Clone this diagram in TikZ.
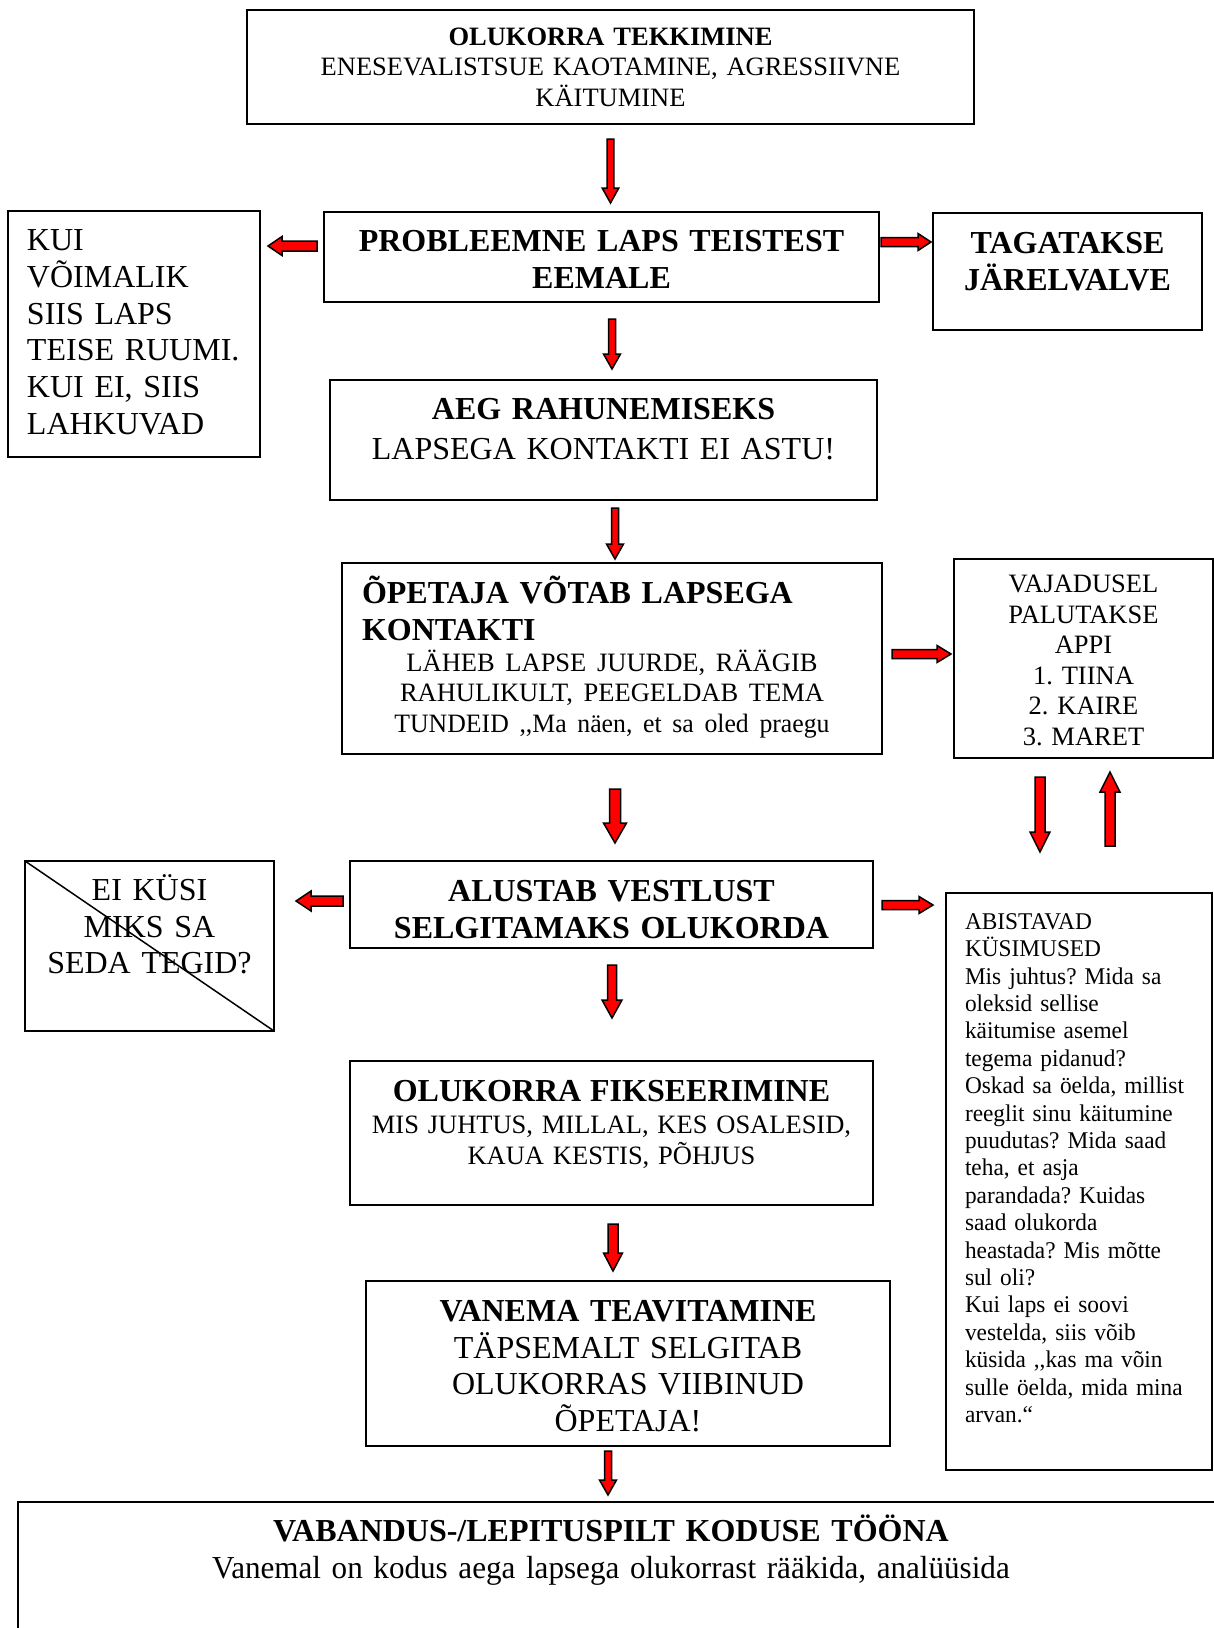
\documentclass[tikz,border=0pt]{standalone}
\usepackage{fontspec}
\setmainfont{Liberation Serif}
\newfontfamily\narrowserif{Liberation Serif}[FakeStretch=0.972]
\usetikzlibrary{calc}
\frenchspacing
\hyphenpenalty=10000
\exhyphenpenalty=10000

\newcommand{\fbig}{\fontsize{32}{36.8}\selectfont}
\newcommand{\fmid}{\fontsize{26.5}{30.6}\selectfont}
\newcommand{\fsml}{\fontsize{24}{27.4}\selectfont}

\tikzset{
  box/.style={draw, line width=2pt, anchor=north west, outer sep=0pt,
    inner ysep=0pt, inner xsep=0pt, align=center},
  lbox/.style={box, align=left, inner xsep=21pt},
  % block arrow: shaft half width, head half width, head length
  redarrow/.style n args={3}{draw=black, fill=red, line width=1.5pt, line join=miter,
    to path={let \p1=(\tikztostart), \p2=(\tikztotarget),
      \p3=($(\p2)!#3!(\p1)$) in
      -- ($(\p1)!#1!90:(\p2)$) -- ($(\p3)!#1!90:(\p2)$) -- ($(\p3)!#2!90:(\p2)$)
      -- (\p2)
      -- ($(\p3)!#2!-90:(\p2)$) -- ($(\p3)!#1!-90:(\p2)$) -- ($(\p1)!#1!-90:(\p2)$)
      -- cycle}}
}

\begin{document}
\begin{tikzpicture}[x=1pt,y=-1pt]
\useasboundingbox (0,0) rectangle (1214,1628);

\node[box, font=\fmid, text width=727pt, text height=35.1pt, text depth=78.9pt] (top) at (247,10)
  {\textbf{OLUKORRA TEKKIMINE}\\ENESEVALISTSUE KAOTAMINE, AGRESSIIVNE\\KÄITUMINE};
\node[box, font=\fbig\bfseries, text width=555pt, text height=39.6pt, text depth=50.4pt] (prob) at (324,212)
  {PROBLEEMNE LAPS TEISTEST\\EEMALE};
\node[lbox, inner xsep=19pt, font=\fbig, text width=214pt, text height=39.5pt, text depth=206.5pt] (kui) at (8,211)
  {KUI\\VÕIMALIK\\SIIS LAPS\\TEISE RUUMI.\\KUI EI, SIIS\\LAHKUVAD};
\node[box, font=\fbig\bfseries, text width=269pt, text height=40.6pt, text depth=76.4pt] (tag) at (933,213)
  {TAGATAKSE\\JÄRELVALVE};
\node[box, font=\fbig, text width=547pt, text height=39.8pt, text depth=80.2pt] (aeg) at (330,380)
  {\textbf{AEG RAHUNEMISEKS}\\[2.7pt]LAPSEGA KONTAKTI EI ASTU!};
\node[lbox, inner xsep=20pt, font=\fbig, text width=500pt, text height=40.6pt, text depth=150.4pt] (opet) at (342,563)
  {\bfseries ÕPETAJA VÕTAB LAPSEGA\\KONTAKTI\par
   \mdseries\centering\fmid LÄHEB LAPSE JUURDE, RÄÄGIB\\RAHULIKULT, PEEGELDAB TEMA\\{\narrowserif TUNDEID ,,Ma näen, et sa oled praegu}\par};
\node[box, font=\fmid, text width=259pt, text height=33.4pt, text depth=165.6pt] (vaj) at (954,559)
  {VAJADUSEL\\PALUTAKSE\\APPI\\1. TIINA\\2. KAIRE\\3. MARET};
\node[box, font=\fbig\bfseries, text width=523pt, text height=40.6pt, text depth=46.4pt] (alus) at (350,861)
  {ALUSTAB VESTLUST\\SELGITAMAKS OLUKORDA};
\node[box, font=\fbig, text width=249pt, text height=39.3pt, text depth=130.7pt] (eik) at (25,861)
  {EI KÜSI\\MIKS SA\\SEDA TEGID?};
\draw[line width=1.5pt] (eik.north west) -- (eik.south east);
\node[lbox, inner xsep=19pt, font=\narrowserif\fsml, text width=228pt, text height=36.3pt, text depth=540.7pt] (abi) at (946,893)
  {ABISTAVAD\\KÜSIMUSED\\Mis juhtus? Mida sa\\oleksid sellise\\käitumise asemel\\tegema pidanud?\\%
   Oskad sa öelda, millist\\reeglit sinu käitumine\\puudutas? Mida saad\\teha, et asja\\parandada? Kuidas\\%
   saad olukorda\\heastada? Mis mõtte\\sul oli?\\Kui laps ei soovi\\vestelda, siis võib\\küsida ,,kas ma võin\\%
   sulle öelda, mida mina\\arvan.“};
\node[box, font=\fmid, text width=523pt, text height=40pt, text depth=104pt] (fiks) at (350,1061)
  {\textbf{\fbig OLUKORRA FIKSEERIMINE}\\[2pt]MIS JUHTUS, MILLAL, KES OSALESID,\\KAUA KESTIS, PÕHJUS};
\node[box, font=\fbig, text width=524pt, text height=40.2pt, text depth=124.8pt] (van) at (366,1281)
  {\textbf{VANEMA TEAVITAMINE}\\TÄPSEMALT SELGITAB\\OLUKORRAS VIIBINUD\\ÕPETAJA!};
\node[box, draw=none, font=\fbig, text width=1186pt, text height=39.6pt, text depth=200pt] (home) at (18,1502)
  {\textbf{VABANDUS-/LEPITUSPILT KODUSE TÖÖNA}\\{\narrowserif Vanemal on kodus aega lapsega olukorrast rääkida, analüüsida}};
\draw[line width=2pt] (home.south west) -- (home.north west) -- ($(home.north east)+(60,0)$);

% arrows
\draw[redarrow={3.3pt}{8.3pt}{15pt}] ($(top.south)+(0,15)$) to ($(top.south |- prob.north)+(0,-9)$);
\draw[redarrow={5pt}{9.5pt}{14pt}] ($(prob.west)+(-7,-11)$) to ($(kui.east |- prob.west)+(8,-11)$);
\draw[redarrow={4.5pt}{8.5pt}{13pt}] ($(prob.east)+(2,-15)$) to ($(tag.west |- prob.east)+(-2,-15)$);
\draw[redarrow={3.5pt}{8.5pt}{15pt}] ($(prob.south)+(10.5,17)$) to ($(prob.south |- aeg.north)+(10.5,-11)$);
\draw[redarrow={3.5pt}{8.5pt}{15pt}] ($(aeg.south)+(11.5,8)$) to ($(aeg.south |- opet.north)+(11.5,-4)$);
\draw[redarrow={4.5pt}{8.5pt}{14pt}] ($(opet.east)+(10,-4.5)$) to ($(vaj.west |- opet.east)+(-3,-4.5)$);
\draw[redarrow={5.5pt}{11.5pt}{20pt}] ($(opet.south)+(3,35)$) to ($(opet.south |- alus.north)+(3,-18)$);
\draw[redarrow={5pt}{10pt}{20pt}] ($(vaj.south)+(-43.5,19)$) to ($(vaj.south |- abi.north)+(-43.5,-41)$);
\draw[redarrow={5pt}{10pt}{20pt}] ($(abi.north)+(31,-47)$) to ($(abi.north |- vaj.south)+(31,14)$);
\draw[redarrow={5pt}{10pt}{15pt}] ($(alus.west)+(-7,-3.5)$) to ($(eik.east |- alus.west)+(22,-3.5)$);
\draw[redarrow={4.5pt}{8.5pt}{14pt}] ($(alus.east)+(9,0.5)$) to ($(abi.west |- alus.east)+(-13,0.5)$);
\draw[redarrow={4.5pt}{10pt}{18pt}] ($(alus.south)+(0.5,17)$) to ($(alus.south |- fiks.north)+(0.5,-43)$);
\draw[redarrow={5pt}{9.5pt}{18pt}] ($(fiks.south)+(1.5,19)$) to ($(fiks.south |- van.north)+(1.5,-10)$);
\draw[redarrow={3.5pt}{8.5pt}{15pt}] ($(van.south)+(-20,5)$) to ($(van.south |- home.north)+(-20,-7)$);
\end{tikzpicture}
\end{document}
